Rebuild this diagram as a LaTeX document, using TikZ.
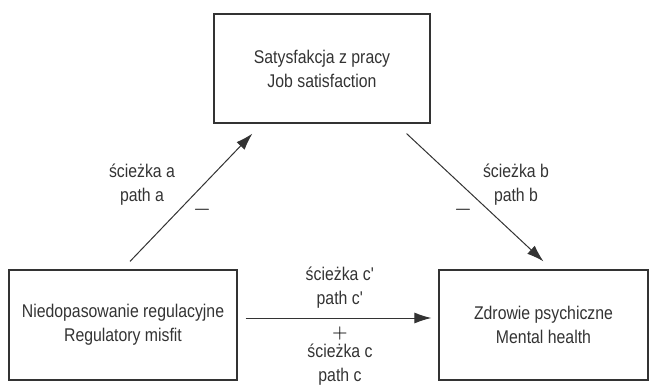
\documentclass[tikz,border=0pt]{standalone}
\usepackage{fontspec}
\setmainfont{Liberation Sans}[FakeStretch=0.86]
\usetikzlibrary{arrows.meta, positioning}
\definecolor{inkgray}{HTML}{333333}
\tikzset{
	construct/.style={draw=inkgray, line width=0.6pt, rectangle, inner sep=2pt, align=center, text=inkgray, font=\fontsize{9.2}{12}\selectfont},
	pathlabel/.style={align=center, text=inkgray, font=\fontsize{9.2}{12}\selectfont},
	sign/.style={text=black, inner sep=0pt},
}

\begin{document}
\begin{tikzpicture}[x=0.5pt, y=-0.5pt]
		\useasboundingbox (0,0) rectangle (650,388);
		
		\node (satisf) [construct, minimum width=108pt, minimum height=54.5pt] at (322,68.5) {Satysfakcja z pracy\\Job satisfaction};
		
		\node (misfit) [construct, minimum width=114pt, minimum height=55pt] at (123,325) {Niedopasowanie regulacyjne\\Regulatory misfit};
		
		\node (health) [construct, minimum width=104.5pt, minimum height=55pt] at (543.5,325) {Zdrowie psychiczne\\Mental health};
		
		% path labels
		\node (patha) [pathlabel] at (142,185) {ścieżka a\\path a};
		\node (signa) [sign, scale=1.15] at (202,210) {$-$};
		\node (pathb) [pathlabel] at (516,185) {ścieżka b\\path b};
		\node (signb) [sign, scale=1.15] at (463,210) {$-$};
		\node (pathcp) [pathlabel] at (340,287.5) {ścieżka c\textquotesingle\\path c\textquotesingle};
		\node (signc) [sign] at (340,333) {$+$};
		\node (pathc) [pathlabel] at (340,365) {ścieżka c\\path c};
		
		\begin{scope}[inkgray, line width=0.5pt, -{Latex[length=8.5pt, width=5.5pt]}]
			\draw ([shift={(7,-8)}]misfit.north) -- ([shift={(39,10)}]satisf.south west);
			\draw ([shift={(-24,10)}]satisf.south east) -- ([shift={(0,-8)}]health.north);
			\draw ([shift={(8,-7)}]misfit.east) -- ([shift={(-7,-7)}]health.west);
		\end{scope}
	\end{tikzpicture}
\end{document}
